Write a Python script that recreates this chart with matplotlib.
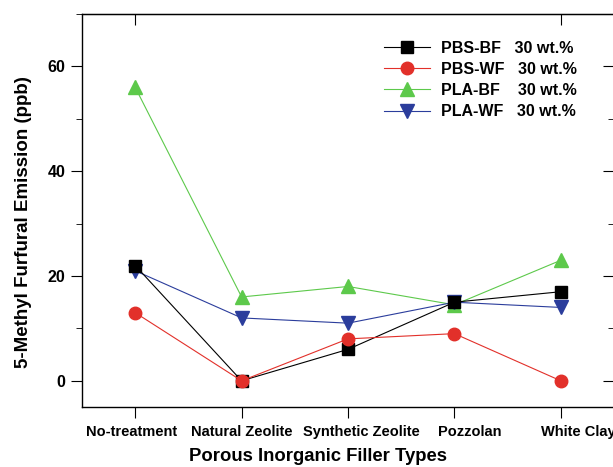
import matplotlib
matplotlib.use("Agg")
import matplotlib.pyplot as plt
from matplotlib.ticker import MultipleLocator
from matplotlib.transforms import ScaledTranslation

plt.rcParams['font.family'] = ['Liberation Sans', 'DejaVu Sans']
plt.rcParams['font.weight'] = 'bold'

categories = ["No-treatment", "Natural Zeolite", "Synthetic Zeolite", "Pozzolan", "White Clay"]
pbs_bf = [22, 0, 6, 15, 17]
pbs_wf = [13, 0, 8, 9, 0]
pla_bf = [56, 16, 18, 14.5, 23]
pla_wf = [21, 12, 11, 15, 14]

labels = ["PBS-BF   30 wt.%", "PBS-WF   30 wt.%", "PLA-BF    30 wt.%", "PLA-WF   30 wt.%"]

fig = plt.figure(figsize=(6.13, 4.67), dpi=100)
ax = fig.add_axes([82/613, 60/467, 532/613, 393/467])

x = range(len(categories))
ax.plot(x, pbs_bf, color="black", marker="s", ms=8.5, lw=0.8, label=labels[0], zorder=3)
ax.plot(x, pbs_wf, color="#e2302a", marker="o", ms=9, lw=0.8, label=labels[1], zorder=4)
ax.plot(x, pla_bf, color="#5dc94b", marker="^", ms=9.5, lw=0.8, label=labels[2], zorder=2)
ax.plot(x, pla_wf, color="#2b3d9c", marker="v", ms=9.5, lw=0.8, label=labels[3], zorder=2)

ax.set_xlim(-0.5, 4.5)
ax.set_ylim(-5, 70)
ax.set_xticks(list(x))
ax.set_xticklabels(categories, fontsize=10.5, fontweight="bold")
ax.yaxis.set_major_locator(MultipleLocator(20))
ax.yaxis.set_minor_locator(MultipleLocator(10))
ax.tick_params(axis="y", which="major", direction="out", length=8, labelsize=11.5, right=False, pad=4)
ax.tick_params(axis="y", which="minor", direction="out", length=4, right=False)
ax.tick_params(axis="x", which="major", direction="out", length=8, top=False, pad=5)
for lbl in ax.get_yticklabels():
    lbl.set_fontweight("bold")

# the category labels in the original sit a little off their ticks
shifts = [-4, 0, 13, 15, 18]
for lbl, dx in zip(ax.get_xticklabels(), shifts):
    lbl.set_transform(lbl.get_transform() + ScaledTranslation(dx / 100, 0, fig.dpi_scale_trans))

# mirrored ticks on top and right pointing inward
sec_x = ax.secondary_xaxis("top")
sec_x.set_xticks([0, 4])
sec_x.tick_params(direction="in", length=8, labeltop=False)
sec_y = ax.secondary_yaxis("right")
sec_y.yaxis.set_major_locator(MultipleLocator(20))
sec_y.yaxis.set_minor_locator(MultipleLocator(10))
sec_y.tick_params(which="major", direction="in", length=8, labelright=False)
sec_y.tick_params(which="minor", direction="in", length=4)

for s in ax.spines.values():
    s.set_linewidth(1.0)

ax.set_xlabel("Porous Inorganic Filler Types", fontsize=13.3, fontweight="bold")
ax.set_ylabel("5-Methyl Furfural Emission (ppb)", fontsize=13.5, fontweight="bold")
ax.xaxis.set_label_coords(0.444, -0.104)
ax.yaxis.set_label_coords(-0.094, 0.47)

leg = ax.legend(loc="upper left", bbox_to_anchor=(0.54, 0.968), frameon=False,
                fontsize=11.5, handlelength=2.9, labelspacing=0.38, handletextpad=0.7)
for t in leg.get_texts():
    t.set_fontweight("bold")

fig.savefig("out.png", dpi=100)
